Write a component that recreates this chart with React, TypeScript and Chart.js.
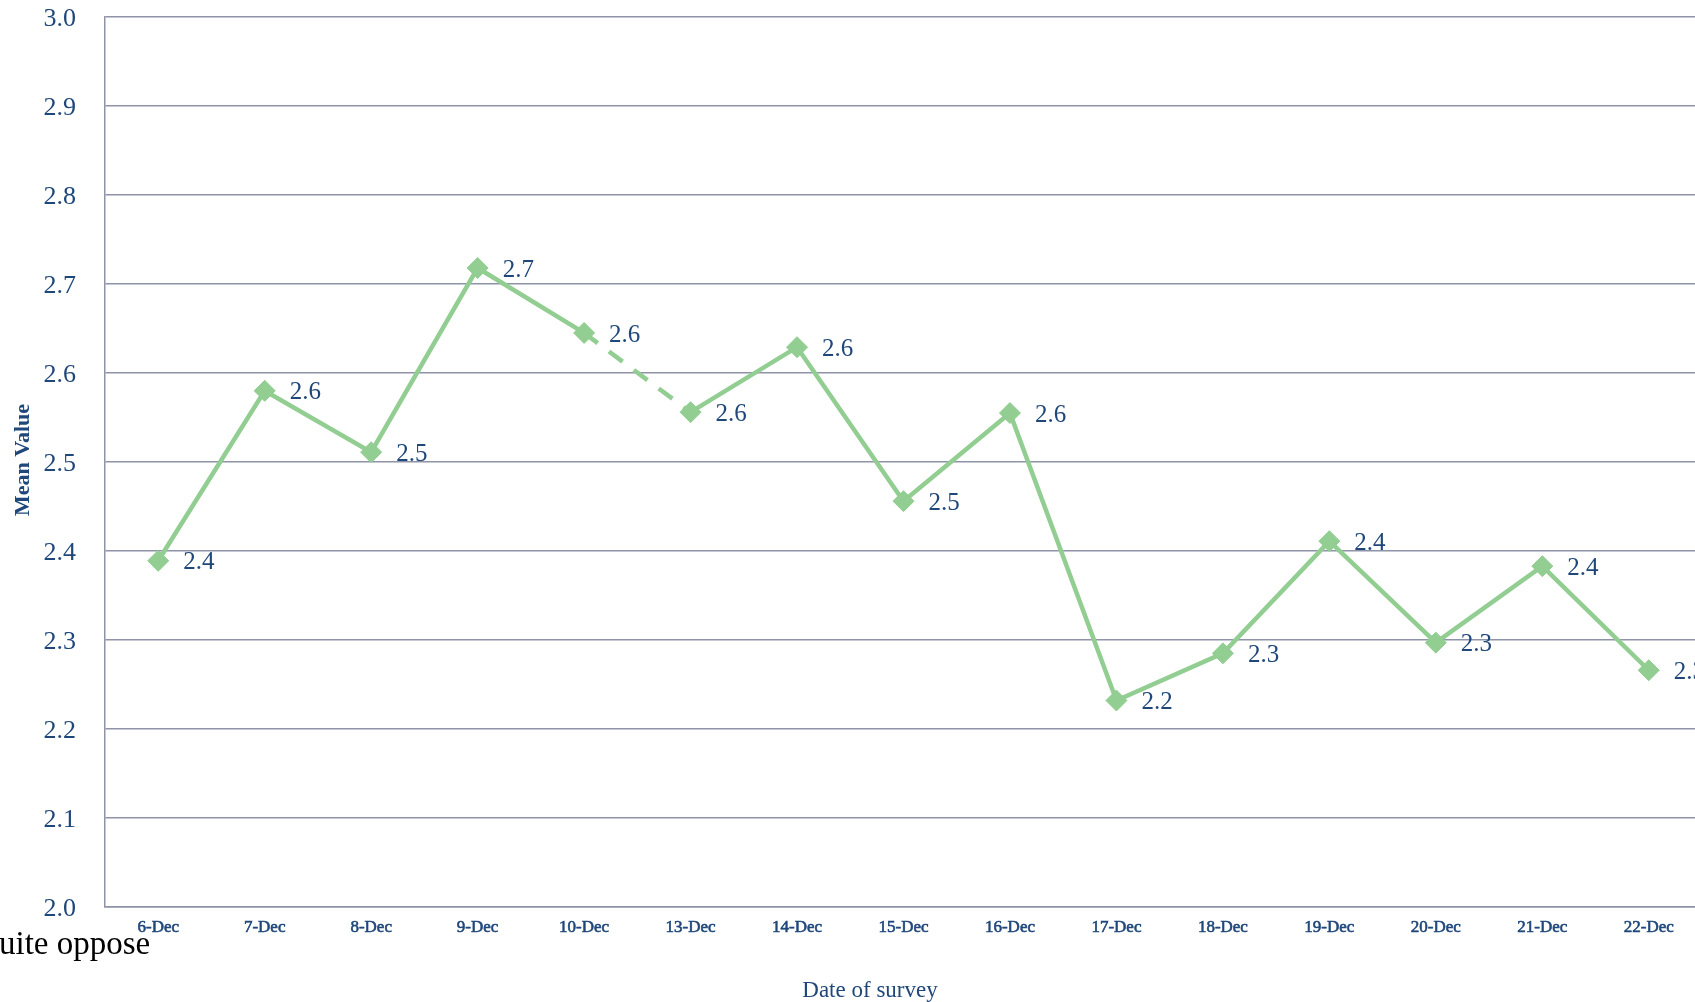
import React, { useEffect, useRef } from "react";
import { Chart, registerables } from "chart.js";

Chart.register(...registerables);

const categories = [
  "6-Dec", "7-Dec", "8-Dec", "9-Dec", "10-Dec", "13-Dec", "14-Dec", "15-Dec",
  "16-Dec", "17-Dec", "18-Dec", "19-Dec", "20-Dec", "21-Dec", "22-Dec",
];
const meanValues = [
  2.389, 2.58, 2.511, 2.718, 2.645, 2.556, 2.629, 2.456,
  2.555, 2.232, 2.285, 2.411, 2.297, 2.383, 2.266,
];
const dashedAfterIndex = 4; // segment 10-Dec -> 13-Dec is dashed
const yTitle = "Mean Value";
const xTitle = "Date of survey";
const strayText = "uite oppose";

const SERIF = "'Liberation Serif', 'Times New Roman', serif";
const NAVY = "#1f477a";
const GREEN = "rgb(146, 205, 146)";
const GRID = "#8e93a7";

export default function App() {
  const canvasRef = useRef<HTMLCanvasElement | null>(null);

  useEffect(() => {
    const canvas = canvasRef.current;
    if (!canvas) return;

    const labelPlugin = {
      id: "valueLabels",
      afterDatasetsDraw(chart: any) {
        const ctx = chart.ctx;
        const meta = chart.getDatasetMeta(0);
        ctx.save();
        ctx.font = `25px ${SERIF}`;
        ctx.fillStyle = NAVY;
        ctx.textAlign = "left";
        ctx.textBaseline = "middle";
        meta.data.forEach((pt: any, i: number) => {
          ctx.fillText(meanValues[i].toFixed(1), pt.x + 25, pt.y + 2);
        });
        ctx.restore();
      },
    };

    const titlePlugin = {
      id: "titles",
      afterDraw(chart: any) {
        const ctx = chart.ctx;
        ctx.save();
        ctx.fillStyle = NAVY;
        ctx.font = `bold 22px ${SERIF}`;
        ctx.textAlign = "center";
        ctx.textBaseline = "middle";
        ctx.translate(23, 460);
        ctx.rotate(-Math.PI / 2);
        ctx.fillText(yTitle, 0, 0);
        ctx.restore();

        ctx.save();
        ctx.fillStyle = NAVY;
        ctx.font = `23px ${SERIF}`;
        ctx.textAlign = "center";
        ctx.textBaseline = "alphabetic";
        ctx.fillText(xTitle, 870, 997);
        ctx.restore();

        ctx.save();
        ctx.fillStyle = "#000000";
        ctx.font = `33px ${SERIF}`;
        ctx.textAlign = "left";
        ctx.textBaseline = "alphabetic";
        ctx.fillText(strayText, -1, 954);
        ctx.restore();
      },
    };

    const chart = new Chart(canvas, {
      type: "line",
      data: {
        labels: categories,
        datasets: [
          {
            label: yTitle,
            data: meanValues,
            borderColor: GREEN,
            backgroundColor: GREEN,
            borderWidth: 4.5,
            pointStyle: "rectRot",
            pointRadius: 10.5,
            pointBorderWidth: 1,
            pointBackgroundColor: GREEN,
            pointBorderColor: GREEN,
            tension: 0,
            segment: {
              borderDash: (ctx: any) =>
                ctx.p0DataIndex === dashedAfterIndex ? [17, 14] : undefined,
            },
          },
        ],
      },
      options: {
        responsive: false,
        animation: false,
        devicePixelRatio: 1,
        layout: { autoPadding: false, padding: { top: 17, right: 8, bottom: 0, left: 0 } },
        plugins: {
          legend: { display: false },
          tooltip: { enabled: false },
          title: { display: false },
        },
        scales: {
          x: {
            type: "category",
            offset: true,
            grid: { display: false, drawTicks: false },
            border: { display: true, color: GRID, width: 1.5 },
            ticks: {
              color: NAVY,
              font: { family: SERIF, size: 17 },
              textStrokeColor: NAVY,
              textStrokeWidth: 0.6,
              padding: 10,
              maxRotation: 0,
              autoSkip: false,
            },
            afterFit: (scale: any) => {
              scale.height = 95;
              scale.paddingLeft = 0;
              scale.paddingRight = 0;
            },
          },
          y: {
            min: 2.0,
            max: 3.0,
            grid: { color: GRID, lineWidth: 1.5, drawTicks: false },
            border: { display: true, color: GRID, width: 1.5 },
            ticks: {
              stepSize: 0.1,
              color: NAVY,
              font: { family: SERIF, size: 26 },
              padding: 29,
              labelOffset: 2,
              callback: (v: any) => Number(v).toFixed(1),
            },
            afterFit: (scale: any) => {
              scale.width = 105;
              scale.paddingTop = 0;
              scale.paddingBottom = 0;
            },
          },
        },
      },
      plugins: [labelPlugin, titlePlugin],
    });

    return () => {
      chart.destroy();
    };
  }, []);

  return (
    <div
      style={{
        position: "fixed",
        left: 0,
        top: 0,
        width: 1695,
        height: 1002,
        overflow: "hidden",
        background: "#ffffff",
      }}
    >
      <canvas
        ref={canvasRef}
        width={1710}
        height={1002}
        style={{ display: "block", width: 1710, height: 1002 }}
      />
    </div>
  );
}
